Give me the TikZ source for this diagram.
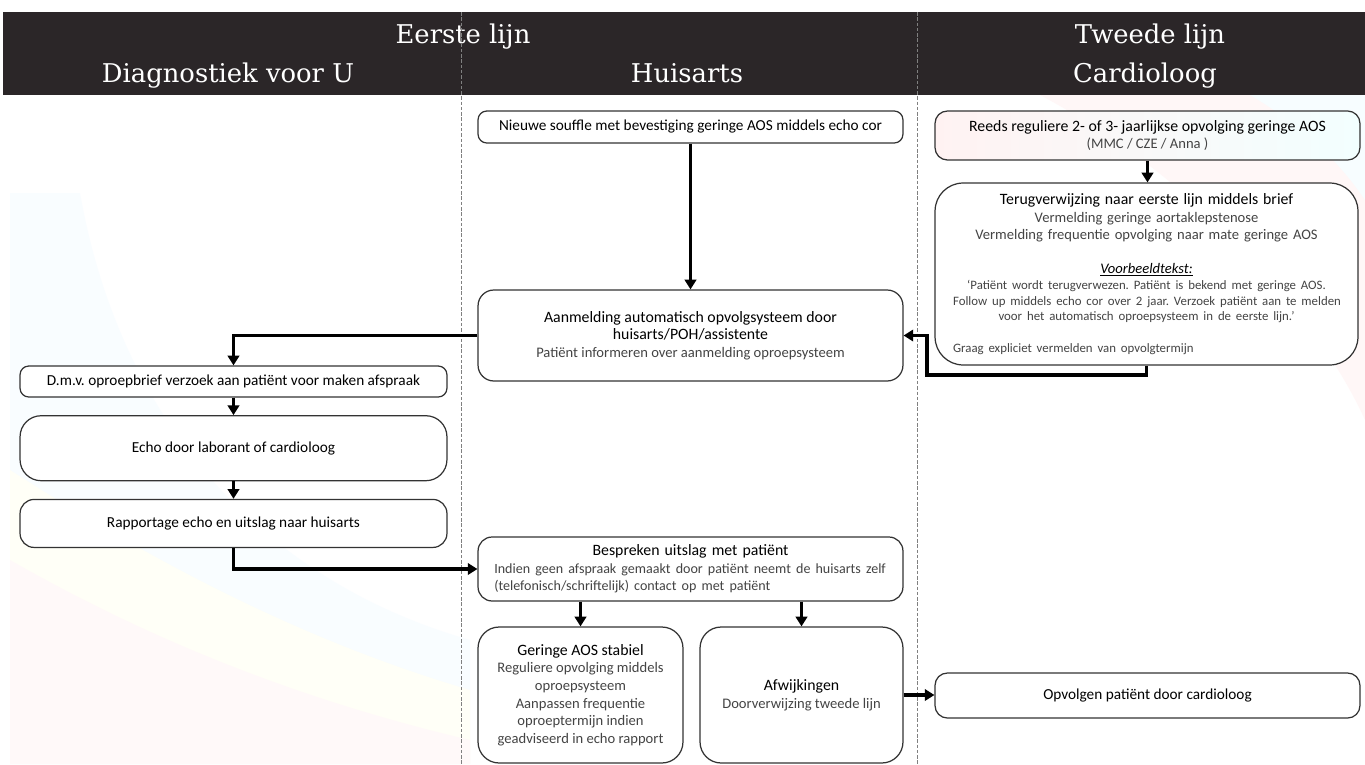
\documentclass[tikz,border=0pt]{standalone}
\usepackage{fontspec}
\setmainfont{DejaVu Serif}
\newfontfamily\boxfont{Carlito}
\usetikzlibrary{arrows.meta, positioning}
\definecolor{headbar}{HTML}{2B2628}
\definecolor{subtext}{HTML}{444444}
\newcommand{\boxtitle}{\fontsize{9}{10}\selectfont}
\newcommand{\boxsub}[1]{{\fontsize{8.3}{10}\selectfont\textcolor{subtext}{#1}}}
\newcommand{\quotefont}{\fontsize{7.3}{8.8}\selectfont\color{subtext}}

\begin{document}
\begin{tikzpicture}[x=0.02cm, y=-0.02cm, node distance=0.35cm]
    \tikzstyle{lane} = [text=white, anchor=base, font=\fontsize{14.7}{17}\selectfont]
    \tikzstyle{box} = [rectangle, rounded corners=5pt, draw=black!80, line width=0.7pt, fill=white, align=center, inner sep=2pt, font=\boxfont\frenchspacing\fontsize{8.7}{10}\selectfont]
    \tikzstyle{bigbox} = [box, rounded corners=12pt]
    \tikzstyle{arrow} = [line width=2pt, -{Triangle[length=5.5pt, width=6.5pt]}]
    \tikzstyle{lanesep} = [gray, line width=0.5pt, dash pattern=on 2pt off 1pt]

    \useasboundingbox (0,0) rectangle (1365,764);
    \fill[white] (0,0) rectangle (1365,764);

    % faint background swooshes
    \fill[cyan!2.5] (10,193) -- (80,193) .. controls (120,420) and (260,580) .. (470,640) -- (470,764) -- (10,764) -- cycle;
    \fill[yellow!3] (10,470) .. controls (150,560) and (300,640) .. (470,690) -- (470,764) -- (10,764) -- cycle;
    \fill[red!2.5] (10,560) .. controls (150,640) and (300,700) .. (470,740) -- (470,764) -- (10,764) -- cycle;
    \fill[red!3] (1040,95) .. controls (1200,180) and (1320,320) .. (1365,420) -- (1365,95) -- cycle;
    \fill[cyan!3] (1250,95) .. controls (1310,130) and (1345,170) .. (1365,200) -- (1365,95) -- cycle;

    % header
    \fill[headbar] (3,12) rectangle (1365,95);
    \node (eerste) [lane] at (463,43) {Eerste lijn};
    \node (tweede) [lane] at (1150,43) {Tweede lijn};
    \node (diag) [lane] at (228,82) {Diagnostiek voor U};
    \node (huis) [lane] at (687,82) {Huisarts};
    \node (cardio) [lane] at (1145,82) {Cardioloog};
    \draw [lanesep] (461,12) -- (461,764);
    \draw [lanesep] (917,12) -- (917,764);

    % huisarts
    \node (nieuw) [box, minimum width=8.5cm, minimum height=0.64cm] at (690.5,127) {Nieuwe souffle met bevestiging geringe AOS middels echo cor};
    \node (aanm) [bigbox, rounded corners=9pt, minimum width=8.5cm, minimum height=1.82cm] at (690.5,335.5) {{\boxtitle Aanmelding automatisch opvolgsysteem door}\\{\boxtitle huisarts/POH/assistente}\\\boxsub{Patiënt informeren over aanmelding oproepsysteem}};
    \node (besp) [box, rounded corners=8pt, minimum width=8.5cm, minimum height=1.28cm, text width=7.85cm, align=left] at (690.5,569) {\makebox[7.85cm]{\boxtitle Bespreken uitslag met patiënt}\\\mbox{\fontsize{8}{10}\selectfont\textcolor{subtext}{Indien geen afspraak gemaakt door patiënt neemt de huisarts zelf}}\\\mbox{\fontsize{8}{10}\selectfont\textcolor{subtext}{(telefonisch/schriftelijk) contact op met patiënt}}};
    \node (ger) [bigbox, minimum width=4.1cm, minimum height=2.72cm] at (580.5,695) {{\boxtitle Geringe AOS stabiel}\\\boxsub{Reguliere opvolging middels}\\\boxsub{oproepsysteem}\\\boxsub{Aanpassen frequentie}\\\boxsub{oproeptermijn indien}\\\boxsub{geadviseerd in echo rapport}};
    \node (afw) [bigbox, minimum width=4.06cm, minimum height=2.72cm] at (801.5,695) {{\boxtitle Afwijkingen}\\\boxsub{Doorverwijzing tweede lijn}};

    % diagnostiek
    \node (dmv) [box, minimum width=8.54cm, minimum height=0.62cm] at (233.5,381.5) {D.m.v. oproepbrief verzoek aan patiënt voor maken afspraak};
    \node (echo) [bigbox, minimum width=8.54cm, minimum height=1.3cm, below=of dmv] {Echo door laborant of cardioloog};
    \node (rapp) [box, rounded corners=8pt, minimum width=8.54cm, minimum height=0.96cm, below=of echo] {Rapportage echo en uitslag naar huisarts};

    % cardioloog
    \node (reeds) [box, rounded corners=7pt, minimum width=8.5cm, minimum height=0.98cm, left color=red!5, right color=cyan!5] at (1147.5,135.5) {{\boxtitle Reeds reguliere 2- of 3- jaarlijkse opvolging geringe AOS}\\\boxsub{(MMC / CZE / Anna )}};
    \node (terug) [bigbox, rounded corners=16pt, minimum width=8.46cm, minimum height=3.64cm, text width=7.74cm, inner xsep=0.36cm, font=\boxfont\frenchspacing\fontsize{8.3}{10}\selectfont] at (1146.5,274) {{\boxtitle Terugverwijzing naar eerste lijn middels brief}\\\boxsub{Vermelding geringe aortaklepstenose}\\\boxsub{Vermelding frequentie opvolging naar mate geringe AOS}\\[9pt]\underline{\textit{Voorbeeldtekst:}}\\[-0.5pt]\mbox{\quotefont ‘Patiënt wordt terugverwezen. Patiënt is bekend met geringe AOS.}\\[-1.2pt]\mbox{\quotefont Follow up middels echo cor over 2 jaar. Verzoek patiënt aan te melden}\\[-1.2pt]\mbox{\quotefont voor het automatisch oproepsysteem in de eerste lijn.’}\\[8pt]\makebox[7.74cm][l]{\quotefont Graag expliciet vermelden van opvolgtermijn}};
    \node (opv) [box, rounded corners=7pt, minimum width=8.5cm, minimum height=0.9cm] at (1147.5,695.5) {Opvolgen patiënt door cardioloog};

    \coordinate (terugbend) at (927,375);

    \draw [arrow] (nieuw) -- (aanm);
    \draw [arrow] (reeds.south) -- (reeds.south |- terug.north);
    \draw [arrow] (terug.south) |- (terugbend) |- (aanm.east);
    \draw [arrow] (aanm.west) -| (dmv.north);
    \draw [arrow] (dmv) -- (echo);
    \draw [arrow] (echo) -- (rapp);
    \draw [arrow] (rapp.south) |- (besp.west);
    \draw [arrow] (ger.north |- besp.south) -- (ger.north);
    \draw [arrow] (afw.north |- besp.south) -- (afw.north);
    \draw [arrow] (afw.east) -- (afw.east -| opv.west);
\end{tikzpicture}
\end{document}
